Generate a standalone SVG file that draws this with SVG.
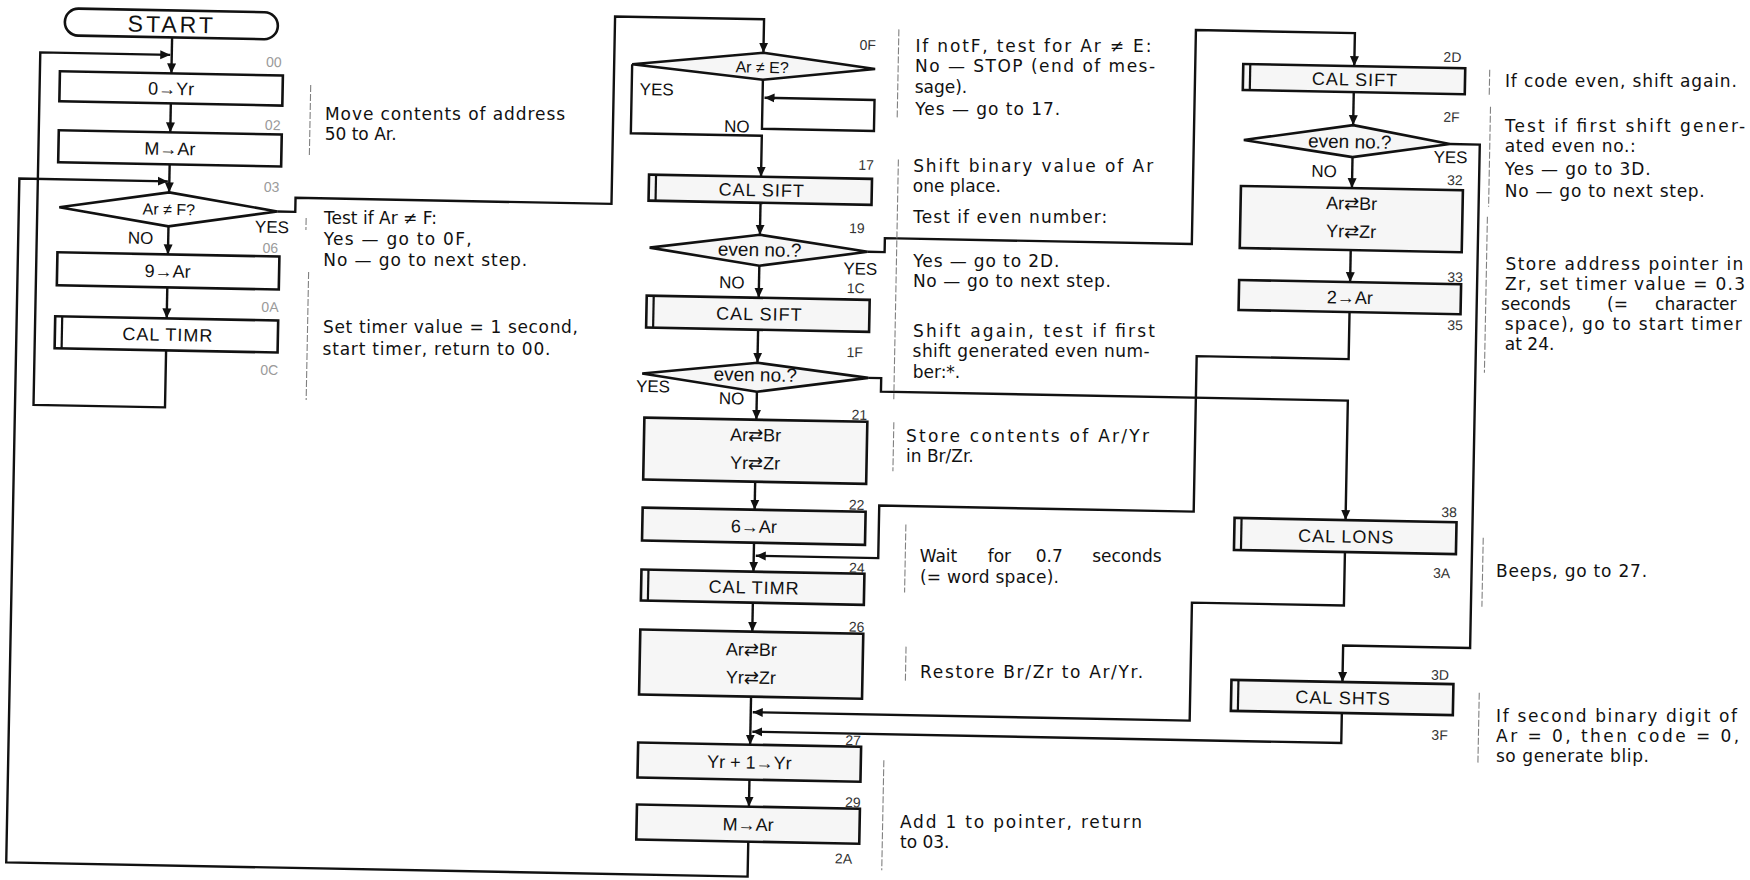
<svg xmlns="http://www.w3.org/2000/svg" width="1750" height="880" viewBox="0 0 1750 880">
<defs>
<style>
.bx{fill:#fff;stroke:#111;stroke-width:2.6}
.bg{fill:#f6f6f6;stroke:#111;stroke-width:2.6}
.in{stroke:#111;stroke-width:2.2}
.ln{fill:none;stroke:#111;stroke-width:2.4}
.ar{marker-end:url(#ah)}
.t{font-family:"Liberation Sans","DejaVu Sans",sans-serif;font-size:18px;fill:#111;text-anchor:middle;letter-spacing:1px}
.a0{letter-spacing:0}
.st{font-size:23px;letter-spacing:3px}
.dt{font-size:16px;letter-spacing:0}
.ev{font-size:19px;letter-spacing:0}
.yn{font-family:"Liberation Sans",sans-serif;font-size:17px;fill:#111}
.ad{font-family:"Liberation Sans",sans-serif;font-size:14px;fill:#333}
.fa{fill:#9a9a9a}
.d{font-family:"DejaVu Sans",sans-serif;font-size:17px;fill:#111}
.br{stroke:#808080;stroke-width:1.1;stroke-dasharray:7 2;fill:none}
</style>
<marker id="ah" viewBox="0 0 10 10" refX="10" refY="5" markerWidth="10" markerHeight="10" markerUnits="userSpaceOnUse" orient="auto"><path d="M0,0.5 L10,5 L0,9.5 z" fill="#111"/></marker>
</defs>
<rect width="1750" height="880" fill="#fff"/>
<g transform="rotate(1.1 875 440)">

<g id="connectors">
<path class="ln ar" d="M164.5,51 V87"/>
<path class="ln ar" d="M164.5,117 V146"/>
<path class="ln ar" d="M164.5,178 V206"/>
<path class="ln ar" d="M164.5,240 V268"/>
<path class="ln ar" d="M164.5,301 V332"/>
<path class="ln ar" d="M164.5,364 V421 H33 V68.5 H163"/>
<path class="ln ar" d="M273,223 H291 V209 H607 V21.5 H756 V55"/>
<path class="ln ar" d="M625,69 V138 H756 V179"/>
<path class="ln ar" d="M756,82 V131 H868 V100 H758"/>
<path class="ln ar" d="M756,205 V237"/>
<path class="ln ar" d="M864,252 H881 V238 H1188 V24 H1347 V57"/>
<path class="ln ar" d="M756,268 V300"/>
<path class="ln ar" d="M756,332 V365"/>
<path class="ln ar" d="M867,378 H880 V391.5 H1347 V511"/>
<path class="ln ar" d="M756,394 V422"/>
<path class="ln ar" d="M756,484 V512"/>
<path class="ln ar" d="M756,545 V574"/>
<path class="ln ar" d="M1347,303 V350 H1195 V505.5 H880.5 V558 H758"/>
<path class="ln ar" d="M756,605 V634"/>
<path class="ln ar" d="M756,699 V747"/>
<path class="ln ar" d="M1347,543 V596.5 H1195 V714.5 H758"/>
<path class="ln ar" d="M1347,704 V734 H758"/>
<path class="ln ar" d="M756,782 V809"/>
<path class="ln ar" d="M756,844 V879 H14.5 V195 H163"/>
<path class="ln ar" d="M1347,83 V116"/>
<path class="ln ar" d="M1444,133 H1474 V636.5 H1347 V673"/>
<path class="ln ar" d="M1347,148 V179"/>
<path class="ln ar" d="M1347,241 V273"/>
</g>

<g id="start"><rect class="bx" x="57" y="24" width="213" height="27" rx="13.5"/><text class="t st" x="164" y="46">START</text></g>
<g id="n00"><rect class="bx" x="53" y="87" width="223" height="30"/><text class="t a0" x="164.5" y="108.5">0→Yr</text><text class="ad fa" x="259" y="78.5">00</text></g>
<g id="n02"><rect class="bx" x="53" y="146" width="223" height="32"/><text class="t a0" x="164.5" y="168.5">M→Ar</text><text class="ad fa" x="259" y="141.5">02</text></g>
<g id="n03"><polygon class="bx" points="164.5,206 273,223 164.5,240 55,223"/><text class="t dt" x="164.5" y="228.5">Ar ≠ F?</text><text class="ad fa" x="259" y="203.5">03</text><text class="yn" x="251" y="244.5">YES</text><text class="yn" x="124" y="258">NO</text></g>
<g id="n06"><rect class="bx" x="54" y="268" width="222" height="33"/><text class="t a0" x="164.5" y="291">9→Ar</text><text class="ad fa" x="259" y="264.5">06</text></g>
<g id="n0A"><rect class="bx" x="53" y="332" width="223" height="32"/><line class="in" x1="60" y1="332" x2="60" y2="364"/><text class="t" x="166" y="354.5">CAL TIMR</text><text class="ad fa" x="259" y="323.5">0A</text><text class="ad fa" x="259" y="386.5">0C</text></g>

<g id="n0F"><polygon class="bg" points="756,55 868,69 756,82 625,69"/><text class="t dt" x="755" y="75">Ar ≠ E?</text><text class="ad" x="852" y="50">0F</text><text class="yn" x="633" y="99.5">YES</text><text class="yn" x="718" y="135">NO</text></g>
<g id="n17"><rect class="bg" x="644" y="179" width="223" height="26"/><line class="in" x1="651" y1="179" x2="651" y2="205"/><text class="t" x="757" y="198.5">CAL SIFT</text><text class="ad" x="853" y="170">17</text></g>
<g id="n19"><polygon class="bg" points="756,237 864,252 756,268 646,252"/><text class="t ev" x="756" y="258.5">even no.?</text><text class="ad" x="845" y="233.5">19</text><text class="yn" x="840" y="275">YES</text><text class="yn" x="716" y="291">NO</text></g>
<g id="n1C"><rect class="bg" x="644" y="300" width="223" height="32"/><line class="in" x1="651" y1="300" x2="651" y2="332"/><text class="t" x="757" y="322.5">CAL SIFT</text><text class="ad" x="844" y="293.5">1C</text></g>
<g id="n1F"><polygon class="bg" points="756,365 867,378 756,394 641,378"/><text class="t ev" x="754" y="383.5">even no.?</text><text class="ad" x="845" y="357.5">1F</text><text class="yn" x="635" y="396.5">YES</text><text class="yn" x="718" y="407">NO</text></g>
<g id="n21"><rect class="bg" x="644" y="422" width="223" height="62"/><text class="t a0" x="755.5" y="443.5">Ar⇄Br</text><text class="t a0" x="755.5" y="471.5">Yr⇄Zr</text><text class="ad" x="851" y="420">21</text></g>
<g id="n22"><rect class="bg" x="644" y="512" width="223" height="33"/><text class="t a0" x="755.5" y="535">6→Ar</text><text class="ad" x="850" y="510">22</text></g>
<g id="n24"><rect class="bg" x="644" y="574" width="223" height="31"/><line class="in" x1="651" y1="574" x2="651" y2="605"/><text class="t" x="757" y="596">CAL TIMR</text><text class="ad" x="851.5" y="573">24</text></g>
<g id="n26"><rect class="bg" x="644" y="634" width="223" height="65"/><text class="t a0" x="755.5" y="658">Ar⇄Br</text><text class="t a0" x="755.5" y="686">Yr⇄Zr</text><text class="ad" x="852.5" y="632">26</text></g>
<g id="n27"><rect class="bg" x="644" y="747" width="223" height="35"/><text class="t a0" x="755.5" y="771">Yr + 1→Yr</text><text class="ad" x="851" y="745.5">27</text></g>
<g id="n29"><rect class="bg" x="644" y="809" width="223" height="35"/><text class="t a0" x="755.5" y="833">M→Ar</text><text class="ad" x="852" y="807.5">29</text><text class="ad" x="843" y="864">2A</text></g>

<g id="n2D"><rect class="bg" x="1236" y="57" width="222" height="26"/><line class="in" x1="1243" y1="57" x2="1243" y2="83"/><text class="t" x="1348" y="76.5">CAL SIFT</text><text class="ad" x="1436" y="51">2D</text></g>
<g id="n2F"><polygon class="bg" points="1347,116 1444,133 1347,148 1238,133"/><text class="t ev" x="1344" y="139">even no.?</text><text class="ad" x="1437" y="111">2F</text><text class="yn" x="1428" y="152">YES</text><text class="yn" x="1306" y="168.5">NO</text></g>
<g id="n32"><rect class="bg" x="1236" y="179" width="222" height="62"/><text class="t a0" x="1347" y="200.5">Ar⇄Br</text><text class="t a0" x="1347" y="228.5">Yr⇄Zr</text><text class="ad" x="1442" y="174">32</text></g>
<g id="n33"><rect class="bg" x="1236" y="273" width="222" height="30"/><text class="t a0" x="1347" y="294.5">2→Ar</text><text class="ad" x="1444" y="271">33</text><text class="ad" x="1445" y="319">35</text></g>
<g id="n38"><rect class="bg" x="1236" y="511" width="222" height="32"/><line class="in" x1="1243" y1="511" x2="1243" y2="543"/><text class="t" x="1348" y="533.5">CAL LONS</text><text class="ad" x="1442.5" y="506">38</text><text class="ad" x="1435.5" y="567">3A</text></g>
<g id="n3D"><rect class="bg" x="1236" y="673" width="222" height="31"/><line class="in" x1="1243" y1="673" x2="1243" y2="704"/><text class="t" x="1348" y="695">CAL SHTS</text><text class="ad" x="1435.5" y="669">3D</text><text class="ad" x="1437" y="729">3F</text></g>

<g id="notes">
<path class="br" d="M304,96 V166 M302,229 V241 M305.5,283 V411 M891,29 V119 M893,159 V399 M893.5,422 V471 M907.5,524 V592 M910,646 V682 M890,760 V870 M1482.5,58 V85 M1484,95 V195 M1483,205 V361 M1485,526 V595 M1484,681 V753"/>
<text class="d" x="319" y="130.6" transform="rotate(-1.1 319 130.6)" textLength="240" lengthAdjust="spacing">Move contents of address</text>
<text class="d" x="319" y="150.6" transform="rotate(-1.1 319 150.6)">50 to Ar.</text>
<text class="d" x="320" y="234.6" transform="rotate(-1.1 320 234.6)">Test if Ar ≠ F:</text>
<text class="d" x="320" y="255.6" transform="rotate(-1.1 320 255.6)" textLength="148" lengthAdjust="spacing">Yes — go to 0F,</text>
<text class="d" x="320" y="276.6" transform="rotate(-1.1 320 276.6)" textLength="204" lengthAdjust="spacing">No — go to next step.</text>
<text class="d" x="321" y="343.6" transform="rotate(-1.1 321 343.6)" textLength="255" lengthAdjust="spacing">Set timer value = 1 second,</text>
<text class="d" x="321" y="365.6" transform="rotate(-1.1 321 365.6)" textLength="228" lengthAdjust="spacing">start timer, return to 00.</text>

<text class="d" x="908" y="51.5" transform="rotate(-1.1 908 51.5)" textLength="236" lengthAdjust="spacing">If notF, test for Ar ≠ E:</text>
<text class="d" x="908" y="71.5" transform="rotate(-1.1 908 71.5)" textLength="240" lengthAdjust="spacing">No — STOP (end of mes-</text>
<text class="d" x="908" y="92" transform="rotate(-1.1 908 92)">sage).</text>
<text class="d" x="909" y="114" transform="rotate(-1.1 909 114)" textLength="145" lengthAdjust="spacing">Yes — go to 17.</text>
<text class="d" x="908" y="171.2" transform="rotate(-1.1 908 171.2)" textLength="240" lengthAdjust="spacing">Shift binary value of Ar</text>
<text class="d" x="908" y="191.2" transform="rotate(-1.1 908 191.2)">one place.</text>
<text class="d" x="909" y="222.2" transform="rotate(-1.1 909 222.2)" textLength="194" lengthAdjust="spacing">Test if even number:</text>
<text class="d" x="910" y="266.5" transform="rotate(-1.1 910 266.5)" textLength="146" lengthAdjust="spacing">Yes — go to 2D.</text>
<text class="d" x="910" y="286.5" transform="rotate(-1.1 910 286.5)" textLength="198" lengthAdjust="spacing">No — go to next step.</text>
<text class="d" x="911" y="336.5" transform="rotate(-1.1 911 336.5)" textLength="242" lengthAdjust="spacing">Shift again, test if first</text>
<text class="d" x="911" y="356.5" transform="rotate(-1.1 911 356.5)" textLength="237" lengthAdjust="spacing">shift generated even num-</text>
<text class="d" x="911.5" y="377" transform="rotate(-1.1 911.5 377)">ber:*.</text>
<text class="d" x="906" y="441.4" transform="rotate(-1.1 906 441.4)" textLength="243" lengthAdjust="spacing">Store contents of Ar/Yr</text>
<text class="d" x="906.4" y="461.4" transform="rotate(-1.1 906.4 461.4)">in Br/Zr.</text>
<text class="d" y="561.1" transform="rotate(-1.1 922 561.1)"><tspan x="922">Wait</tspan><tspan x="990">for</tspan><tspan x="1038">0.7</tspan><tspan x="1094.5">seconds</tspan></text>
<text class="d" x="922.7" y="582.1" transform="rotate(-1.1 922.7 582.1)" textLength="139" lengthAdjust="spacing">(= word space).</text>
<text class="d" x="924.6" y="677.1" transform="rotate(-1.1 924.6 677.1)" textLength="223" lengthAdjust="spacing">Restore Br/Zr to Ar/Yr.</text>
<text class="d" x="907.4" y="827.5" transform="rotate(-1.1 907.4 827.5)" textLength="242" lengthAdjust="spacing">Add 1 to pointer, return</text>
<text class="d" x="907.8" y="847.5" transform="rotate(-1.1 907.8 847.5)">to 03.</text>

<text class="d" x="1498" y="75" transform="rotate(-1.1 1498 75)" textLength="232" lengthAdjust="spacing">If code even, shift again.</text>
<text class="d" x="1499" y="120" transform="rotate(-1.1 1499 120)" textLength="240" lengthAdjust="spacing">Test if first shift gener-</text>
<text class="d" x="1499" y="140" transform="rotate(-1.1 1499 140)" textLength="131" lengthAdjust="spacing">ated even no.:</text>
<text class="d" x="1499.5" y="163" transform="rotate(-1.1 1499.5 163)" textLength="146" lengthAdjust="spacing">Yes — go to 3D.</text>
<text class="d" x="1500" y="185" transform="rotate(-1.1 1500 185)" textLength="200" lengthAdjust="spacing">No — go to next step.</text>
<text class="d" x="1502" y="258" transform="rotate(-1.1 1502 258)" textLength="238" lengthAdjust="spacing">Store address pointer in</text>
<text class="d" x="1502" y="278" transform="rotate(-1.1 1502 278)" textLength="240" lengthAdjust="spacing">Zr, set timer value = 0.3</text>
<text class="d" y="298" transform="rotate(-1.1 1498.5 298)"><tspan x="1498.5">seconds</tspan><tspan x="1604.5">(=</tspan><tspan x="1652.5">character</tspan></text>
<text class="d" x="1502.5" y="318" transform="rotate(-1.1 1502.5 318)" textLength="237" lengthAdjust="spacing">space), go to start timer</text>
<text class="d" x="1503" y="338" transform="rotate(-1.1 1503 338)">at 24.</text>
<text class="d" x="1498.6" y="565" transform="rotate(-1.1 1498.6 565)" textLength="151" lengthAdjust="spacing">Beeps, go to 27.</text>
<text class="d" x="1501.4" y="710" transform="rotate(-1.1 1501.4 710)" textLength="241" lengthAdjust="spacing">If second binary digit of</text>
<text class="d" x="1501.8" y="730" transform="rotate(-1.1 1501.8 730)" textLength="243" lengthAdjust="spacing">Ar = 0, then code = 0,</text>
<text class="d" x="1502" y="750" transform="rotate(-1.1 1502 750)" textLength="153" lengthAdjust="spacing">so generate blip.</text>
</g>
</g>
</svg>
